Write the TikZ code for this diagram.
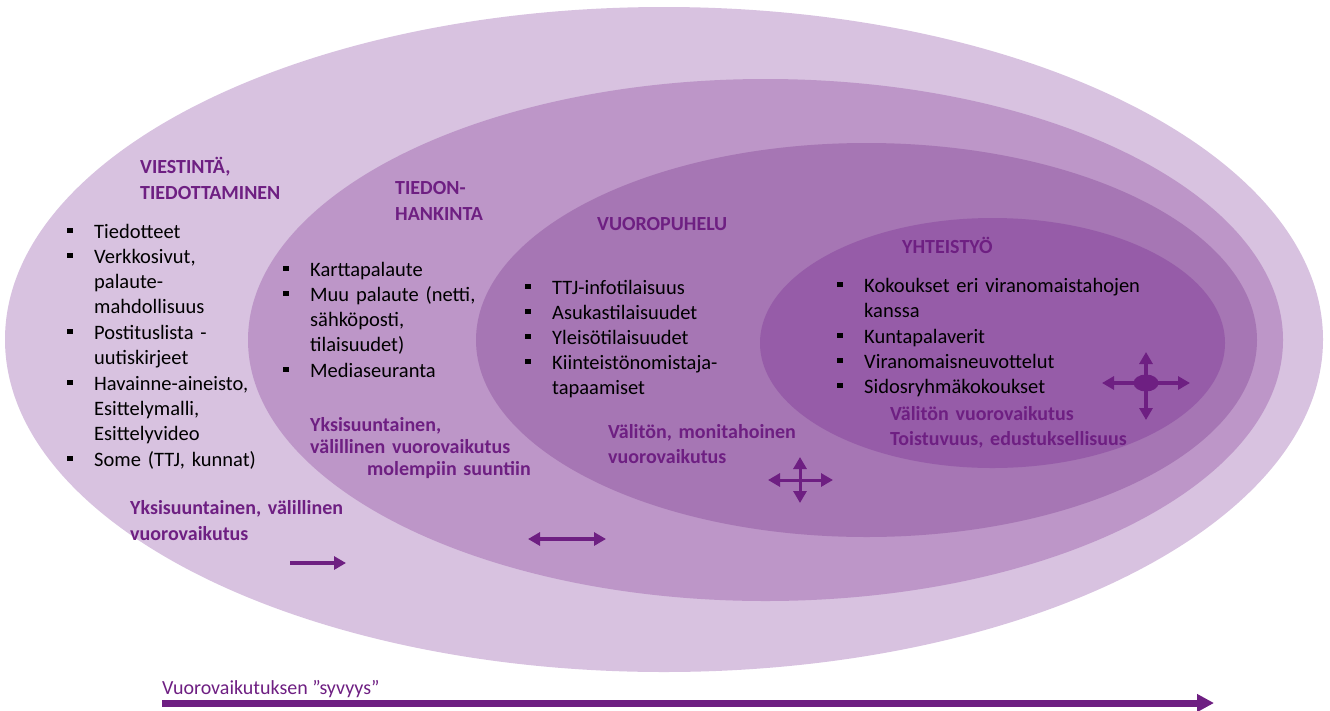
\documentclass[tikz,border=0pt]{standalone}
\usepackage{fontspec}
\setmainfont{Carlito}
\usetikzlibrary{arrows.meta}
\definecolor{ringa}{RGB}{216,194,224}
\definecolor{ringb}{RGB}{189,150,200}
\definecolor{ringc}{RGB}{166,118,180}
\definecolor{ringd}{RGB}{150,92,168}
\definecolor{vio}{RGB}{110,31,130}
\setlength\lineskip{0pt}
\newcommand\bul[1]{\noindent\makebox[27pt][l]{\strut\raisebox{5pt}{\rule{5.5pt}{5.5pt}}}\parbox[t]{300pt}{\strut#1\strut}}
\begin{document}
\begin{tikzpicture}[x = 1pt, y = -1pt,
  otsikko/.style = {anchor = base west, inner sep = 0, text width = 320pt, align = left, text = vio, font = \bfseries\fontsize{20}{26}\selectfont},
  lista/.style = {anchor = base west, inner sep = 0, text width = 330pt, align = left, font = \fontsize{20.5}{25}\selectfont},
  nuoli/.style = {draw = vio, line width = 3.5pt, -{Triangle[length = 12pt, width = 13pt]}},
  kaksi/.style = {draw = vio, line width = 3.5pt, {Triangle[length = 12pt, width = 13pt]}-{Triangle[length = 12pt, width = 13pt]}}]
\useasboundingbox (0,0) rectangle (1330,710);
\fill [color = ringa] (664,339.5) ellipse [x radius = 659pt, y radius = 332.5pt];
\fill [color = ringb] (765.5,340) ellipse [x radius = 517.5pt, y radius = 261pt];
\fill [color = ringc] (866.5,340) ellipse [x radius = 390.5pt, y radius = 197pt];
\fill [color = ringd] (992.5,343) ellipse [x radius = 232.5pt, y radius = 125pt];
\node [otsikko] (viestinta) at (140,173) {VIESTINTÄ,\\TIEDOTTAMINEN};
\node [otsikko] (hankinta) at (395,194) {TIEDON-\\HANKINTA};
\node [otsikko] (vuoropuhelu) at (597,230) {VUOROPUHELU};
\node [otsikko] (yhteistyo) at (902,253) {YHTEISTYÖ};
\node [lista] (lista1) at (67,238) {\bul{Tiedotteet}\par\bul{Verkkosivut,\\palaute-\\mahdollisuus}\par\bul{Postituslista -\\uutiskirjeet}\par\bul{Havainne-aineisto,\\Esittelymalli,\\Esittelyvideo}\par\bul{Some (TTJ, kunnat)}};
\node [lista] (lista2) at (283,276) {\bul{Karttapalaute}\par\bul{Muu palaute (netti,\\sähköposti,\\tilaisuudet)}\par\bul{Mediaseuranta}};
\node [lista] (lista3) at (525,294) {\bul{TTJ-infotilaisuus}\par\bul{Asukastilaisuudet}\par\bul{Yleisötilaisuudet}\par\bul{Kiinteistönomistaja-\\tapaamiset}};
\node [lista] (lista4) at (837,292) {\bul{Kokoukset eri viranomaistahojen\\kanssa}\par\bul{Kuntapalaverit}\par\bul{Viranomaisneuvottelut}\par\bul{Sidosryhmäkokoukset}};
\node [otsikko] (tapa1) at (130,514) {Yksisuuntainen, välillinen\\vuorovaikutus};
\node [otsikko, font = \bfseries\fontsize{20}{22}\selectfont] (tapa2) at (310,431) {Yksisuuntainen,\\välillinen vuorovaikutus\\\hspace*{57pt}molempiin suuntiin};
\node [otsikko, font = \bfseries\fontsize{20}{24.5}\selectfont] (tapa3) at (608,438.5) {Välitön, monitahoinen\\vuorovaikutus};
\node [otsikko, font = \bfseries\fontsize{20}{25}\selectfont] (tapa4) at (890,420) {Välitön vuorovaikutus\\Toistuvuus, edustuksellisuus};
\coordinate (yksi-a) at (290,563);
\coordinate (yksi-b) at (346,563);
\draw [nuoli] (yksi-a) -- (yksi-b);
\coordinate (kaksi-a) at (528,539);
\coordinate (kaksi-b) at (606,539);
\draw [kaksi] (kaksi-a) -- (kaksi-b);
\coordinate (moni-l) at (768,480);
\coordinate (moni-r) at (833,480);
\coordinate (moni-t) at (800,457);
\coordinate (moni-b) at (800,503);
\draw [kaksi, line width = 3pt] (moni-l) -- (moni-r);
\draw [kaksi, line width = 3pt] (moni-t) -- (moni-b);
\coordinate (yht-c) at (1146,383);
\coordinate (yht-l) at (1102,383);
\coordinate (yht-r) at (1190,383);
\coordinate (yht-t) at (1146,352);
\coordinate (yht-b) at (1146,420);
\draw [kaksi] (yht-l) -- (yht-r);
\draw [kaksi] (yht-t) -- (yht-b);
\fill [color = vio] (yht-c) ellipse [x radius = 12.5pt, y radius = 8.5pt];
\node [anchor = base west, inner sep = 0, text = vio, font = \fontsize{20}{24}\selectfont] (syvyys) at (162,694) {Vuorovaikutuksen ”syvyys”};
\coordinate (syvyys-a) at (162,703);
\coordinate (syvyys-b) at (1214,703);
\draw [draw = vio, line width = 7pt, -{Triangle[length = 17pt, width = 17pt]}] (syvyys-a) -- (syvyys-b);
\end{tikzpicture}
\end{document}
